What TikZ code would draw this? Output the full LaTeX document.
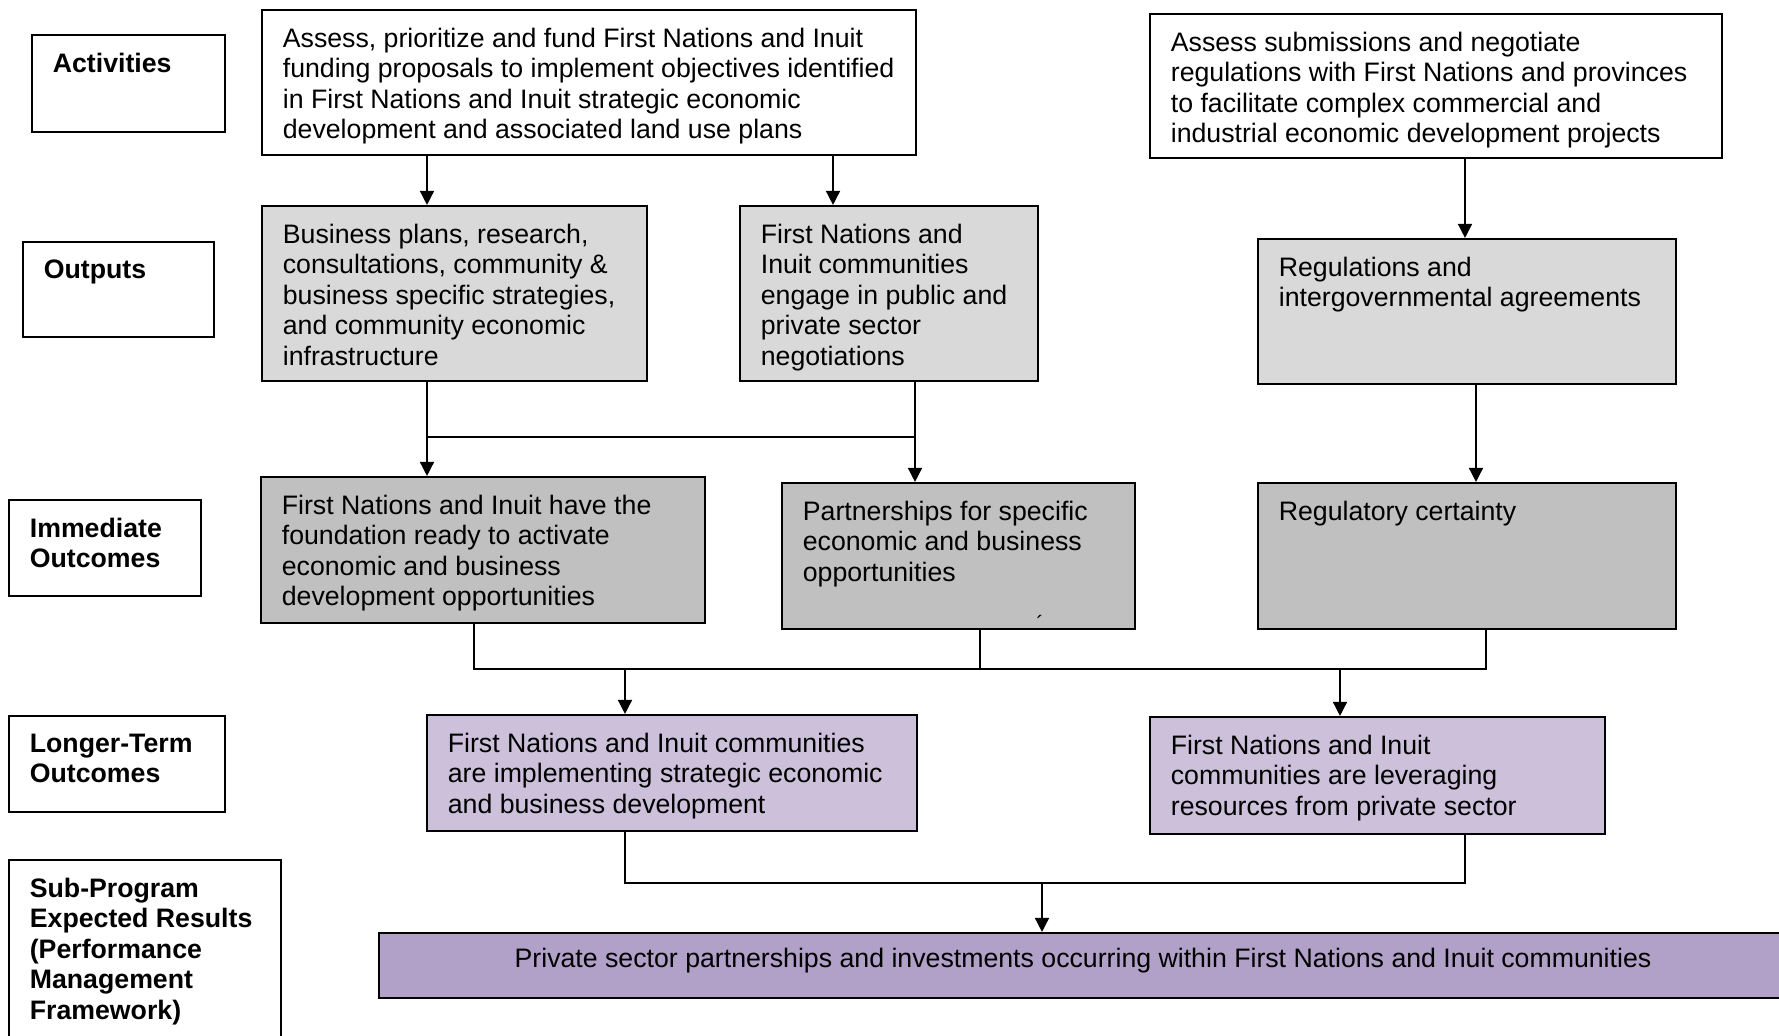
\documentclass[tikz,border=0pt]{standalone}
\usepackage{fontspec}
\setmainfont{Liberation Sans}
\usetikzlibrary{arrows.meta,calc,fit}
\definecolor{outgray}{HTML}{D9D9D9}
\definecolor{immgray}{HTML}{C0C0C0}
\definecolor{ltpurple}{HTML}{CCC0DA}
\definecolor{dkpurple}{HTML}{B1A0C7}
\tikzset{
  box/.style={draw=black, line width=1.05pt, inner sep=0pt},
  txt/.style={anchor=north west, inner sep=0pt, align=left, font=\fontsize{13.35}{15.3}\selectfont},
  lbl/.style={txt, font=\fontsize{13.35}{15.3}\selectfont\bfseries},
  conn/.style={draw=black, line width=0.75pt},
  arr/.style={conn, -{Triangle[length=7pt,width=7pt]}}
}
\begin{document}
\begin{tikzpicture}[x=0.5pt,y=-0.5pt]
\useasboundingbox (0,0) rectangle (1779,1036);
% label boxes
\node[box, fit={(32,35) (225,132)}] (Lact) {};
\node[box, fit={(23,242) (214,337)}] (Lout) {};
\node[box, fit={(9,500) (201,596)}] (Limm) {};
\node[box, fit={(9,716) (225,812)}] (Llong) {};
\node[box, fit={(9,860) (281,1050)}] (Lsub) {};
\node[lbl] (tLact) at ($(Lact.north west)+(21.5,18.5)$) {Activities};
\node[lbl] (tLout) at ($(Lout.north west)+(21.5,18.5)$) {Outputs};
\node[lbl] (tLimm) at ($(Limm.north west)+(21.5,18.5)$) {Immediate\\Outcomes};
\node[lbl] (tLlong) at ($(Llong.north west)+(21.5,18.5)$) {Longer-Term\\Outcomes};
\node[lbl] (tLsub) at ($(Lsub.north west)+(21.5,18.5)$) {Sub-Program\\Expected Results\\(Performance\\Management\\Framework)};
% content boxes
\node[box, fill=white, fit={(262,10) (916,155)}] (A1) {};
\node[box, fill=white, fit={(1150,14) (1722,158)}] (A2) {};
\node[box, fill=outgray, fit={(262,206) (647,381)}] (O1) {};
\node[box, fill=outgray, fit={(740,206) (1038,381)}] (O2) {};
\node[box, fill=outgray, fit={(1258,239) (1676,384)}] (O3) {};
\node[box, fill=immgray, fit={(261,477) (705,623)}] (I1) {};
\node[box, fill=immgray, fit={(782,483) (1135,629)}] (I2) {};
\node[box, fill=immgray, fit={(1258,483) (1676,629)}] (I3) {};
\node[box, fill=ltpurple, fit={(427,715) (917,831)}] (L1) {};
\node[box, fill=ltpurple, fit={(1150,717) (1605,834)}] (L2) {};
\node[box, fill=dkpurple, fit={(379,933) (1786,998)}] (F) {};
% texts
\node[txt] (tA1) at ($(A1.north west)+(21.5,18.5)$) {Assess, prioritize and fund First Nations and Inuit\\funding proposals to implement objectives identified\\in First Nations and Inuit strategic economic\\development and associated land use plans};
\node[txt] (tA2) at ($(A2.north west)+(21.5,18.5)$) {Assess submissions and negotiate\\regulations with First Nations and provinces\\to facilitate complex commercial and\\industrial economic development projects};
\node[txt] (tO1) at ($(O1.north west)+(21.5,18.5)$) {Business plans, research,\\consultations, community \&\\business specific strategies,\\and community economic\\infrastructure};
\node[txt] (tO2) at ($(O2.north west)+(21.5,18.5)$) {First Nations and\\Inuit communities\\engage in public and\\private sector\\negotiations};
\node[txt] (tO3) at ($(O3.north west)+(21.5,18.5)$) {Regulations and\\intergovernmental agreements};
\node[txt] (tI1) at ($(I1.north west)+(21.5,18.5)$) {First Nations and Inuit have the\\foundation ready to activate\\economic and business\\development opportunities};
\node[txt] (tI2) at ($(I2.north west)+(21.5,18.5)$) {Partnerships for specific\\economic and business\\opportunities};
\node[txt] (tI3) at ($(I3.north west)+(21.5,18.5)$) {Regulatory certainty};
\node[txt] (tL1) at ($(L1.north west)+(21.5,18.5)$) {First Nations and Inuit communities\\are implementing strategic economic\\and business development};
\node[txt] (tL2) at ($(L2.north west)+(21.5,18.5)$) {First Nations and Inuit\\communities are leveraging\\resources from private sector};
\node[anchor=center, inner sep=0pt, font=\fontsize{13.35}{15.3}\selectfont] (tF) at (1083,961) {Private sector partnerships and investments occurring within First Nations and Inuit communities};
\node[anchor=north, inner sep=0pt, font=\fontsize{11}{11}\selectfont] (tick) at (1040,615) {´};
% connector columns and rows
\coordinate (cA1) at (427,0);
\coordinate (cA2) at (833,0);
\coordinate (cA3) at (1465,0);
\coordinate (cO2) at (915,0);
\coordinate (cO3) at (1476,0);
\coordinate (cI1) at (474,0);
\coordinate (cI2) at (980,0);
\coordinate (cI3) at (1486,0);
\coordinate (cL1) at (625,0);
\coordinate (cL2) at (1340,0);
\coordinate (cM2) at (1465,0);
\coordinate (cF) at (1042,0);
\coordinate (jO) at (0,437);
\coordinate (jI) at (0,669);
\coordinate (jL) at (0,883);
% connectors
\draw[arr] (A1.south -| cA1) -- (O1.north -| cA1);
\draw[arr] (A1.south -| cA2) -- (O2.north -| cA2);
\draw[arr] (A2.south -| cA3) -- (O3.north -| cA3);
\draw[arr] (O1.south -| cA1) -- (I1.north -| cA1);
\draw[arr] (O2.south -| cO2) -- (I2.north -| cO2);
\draw[conn] (jO -| cA1) -- (jO -| cO2);
\draw[arr] (O3.south -| cO3) -- (I3.north -| cO3);
\draw[conn] (I1.south -| cI1) -- (jI -| cI1) -- (jI -| cI3) -- (I3.south -| cI3);
\draw[conn] (I2.south -| cI2) -- (jI -| cI2);
\draw[arr] (jI -| cL1) -- (L1.north -| cL1);
\draw[arr] (jI -| cL2) -- (L2.north -| cL2);
\draw[conn] (L1.south -| cL1) -- (jL -| cL1) -- (jL -| cM2) -- (L2.south -| cM2);
\draw[arr] (jL -| cF) -- (F.north -| cF);
\end{tikzpicture}
\end{document}
